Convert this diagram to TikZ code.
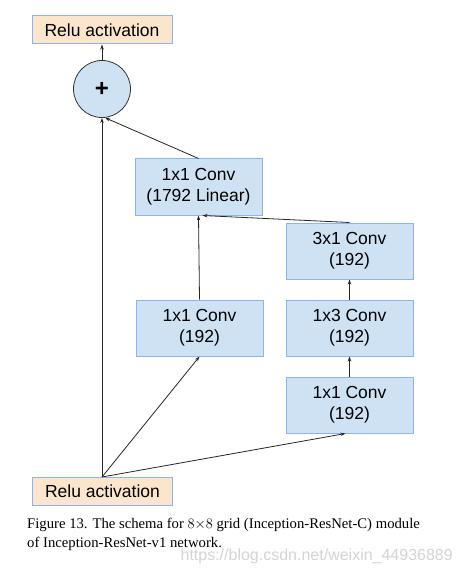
\documentclass[tikz,border=0pt]{standalone}
\usepackage{fontspec}
\setmainfont{Liberation Serif}
\setsansfont{Liberation Sans}
\usetikzlibrary{arrows.meta}
\definecolor{boxfill}{HTML}{CFE2F3}
\definecolor{boxline}{HTML}{8DB3F0}
\definecolor{relufill}{HTML}{FCE5CD}
\definecolor{wmark}{HTML}{D4D4D4}
\tikzset{
  conv/.style={draw=boxline, line width=1pt, fill=boxfill, minimum width=127pt, minimum height=56pt, inner sep=0pt, align=center, font=\sffamily\fontsize{17.5}{21}\selectfont},
  relu/.style={draw=boxline, line width=1pt, fill=relufill, minimum width=140pt, minimum height=28pt, inner sep=0pt, font=\sffamily\fontsize{17.5}{21}\selectfont},
  addnode/.style={circle, draw=black!80, line width=0.8pt, fill=boxfill, minimum size=57pt, inner sep=0pt},
  arr/.style={draw=black!85, line width=0.8pt, -{Stealth[length=5pt,width=3.5pt]}}
}
\begin{document}
\begin{tikzpicture}[x=1pt,y=-1pt]
\useasboundingbox[fill=white] (0,0) rectangle (462,572);
\node[relu] (top) at (102,30) {Relu activation};
\node[addnode] (add) at (102,89) {\fontsize{24}{24}\selectfont\bfseries\sffamily +};
\node[conv] (lin) at (198.5,187) {1x1 Conv\\(1792 Linear)};
\node[conv] (c31) at (349.5,251) {3x1 Conv\\(192)};
\node[conv] (c11a) at (199.5,328) {1x1 Conv\\(192)};
\node[conv] (c13) at (349.5,328) {1x3 Conv\\(192)};
\node[conv] (c11b) at (349.5,405) {1x1 Conv\\(192)};
\node[relu] (bot) at (102.5,491) {Relu activation};
\coordinate (bt) at (102,477);
\draw[arr] (add.north) -- (top.south);
\draw[arr] (lin.north) -- (add.-84);
\draw[arr] (bt) -- (add.south);
\draw[arr] (bt) -- (c11a.south);
\draw[arr] (bt) -- ([xshift=-4pt]c11b.south);
\draw[arr] (c11a.north) -- (lin.south);
\draw[arr] (c31.north) -- ([xshift=4pt]lin.south);
\draw[arr] (c13.north) -- (c31.south);
\draw[arr] (c11b.north) -- (c13.south);
\node[anchor=base west, inner sep=0pt, font=\fontsize{14.7}{16}\selectfont] (cap1) at (27,528) {Figure 13. The schema for $8{\times}8$ grid (Inception-ResNet-C) module};
\node[anchor=base west, inner sep=0pt, font=\fontsize{14.7}{16}\selectfont] (cap2) at (27,547) {of Inception-ResNet-v1 network.};
\node[anchor=base east, inner sep=0pt, text=wmark, font=\sffamily\fontsize{16}{16}\selectfont] (wm) at (453,560) {https://blog.csdn.net/weixin\_44936889};
\end{tikzpicture}
\end{document}
